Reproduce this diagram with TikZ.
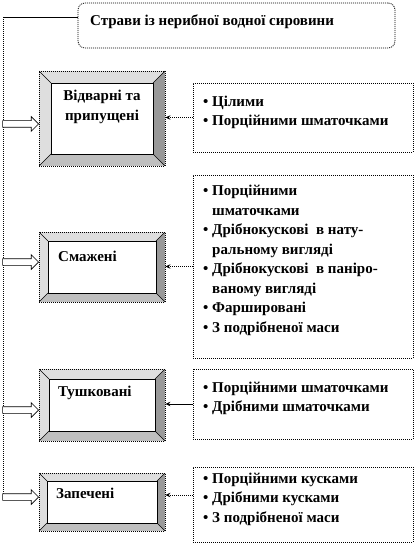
\documentclass[tikz,border=0pt]{standalone}
\usepackage{fontspec}
\setmainfont{Liberation Serif}
\usetikzlibrary{arrows.meta, shapes.arrows, calc}
\definecolor{bevlight}{gray}{0.87}
\definecolor{bevmid}{gray}{0.75}
\definecolor{bevdark}{gray}{0.6}
\newcommand\bul{\textbullet\ }
\newcommand\bulpad{\hphantom{\textbullet\ }}
\tikzset{
  dotline/.style  = {line width=0.8pt, dash pattern=on 1pt off 1pt},
  titlebox/.style = {dotline, draw, rounded corners=7pt, minimum width=317pt,
                     minimum height=45pt, inner sep=0pt},
  listbox/.style  = {dotline, draw, minimum width=220pt, inner sep=0pt},
  listtxt/.style  = {anchor=north west, align=left, inner sep=0pt},
  grptxt/.style   = {anchor=west, inner sep=0pt},
  bevelbox/.style = {dotline, draw, minimum width=126pt, inner sep=0pt,
    path picture={
      \coordinate (p1) at (path picture bounding box.north west);
      \coordinate (p2) at (path picture bounding box.north east);
      \coordinate (p3) at (path picture bounding box.south east);
      \coordinate (p4) at (path picture bounding box.south west);
      \coordinate (q1) at ([shift={(#1,-#1)}]p1);
      \coordinate (q2) at ([shift={(-#1,-#1)}]p2);
      \coordinate (q3) at ([shift={(-#1,#1)}]p3);
      \coordinate (q4) at ([shift={(#1,#1)}]p4);
      \fill[bevlight] (p1) -- (p2) -- (q2) -- (q1) -- cycle;
      \fill[bevlight] (p1) -- (q1) -- (q4) -- (p4) -- cycle;
      \fill[bevdark] (p2) -- (p3) -- (q3) -- (q2) -- cycle;
      \fill[bevmid] (p4) -- (q4) -- (q3) -- (p3) -- cycle;
      \draw[solid, line width=0.8pt, fill=white] (q1) rectangle (q3);
      \draw[solid, line width=0.6pt] (p1) -- (q1) (p2) -- (q2) (p3) -- (q3) (p4) -- (q4);
    }},
  blockarr/.style = {single arrow, draw, line width=0.6pt, fill=white,
                     inner xsep=0pt, inner ysep=3pt, minimum height=36pt,
                     single arrow head extend=4pt, single arrow head indent=0pt},
  conn/.style     = {-{Stealth[length=5pt, width=4.5pt]}, line width=0.8pt},
}
\begin{document}
\begin{tikzpicture}[x=1pt, y=-1pt,
    every node/.style={font=\bfseries\fontsize{15}{19.5}\selectfont}]
  \useasboundingbox (0,0) rectangle (417,545);

  % heading
  \node[titlebox] (title) at (236.5,25.5) {};
  \node[grptxt] (titletxt) at (90,22) {Страви із нерибної водної сировини};

  % groups
  \node[bevelbox=12pt, minimum height=95pt] (boiled) at (102,118.5) {};
  \node[align=center, inner sep=0pt] (boiledtxt) at (102,107) {Відварні та\\припущені};
  \node[bevelbox=9pt, minimum height=70pt] (fried) at (102,267) {};
  \node[grptxt] (friedtxt) at (58,256) {Смажені};
  \node[bevelbox=10pt, minimum height=72pt] (stewed) at (102,405) {};
  \node[grptxt] (stewedtxt) at (58,393) {Тушковані};
  \node[bevelbox=8pt, minimum height=58pt] (baked) at (102,502) {};
  \node[grptxt] (bakedtxt) at (56,493) {Запечені};

  % lists
  \node[listbox, minimum height=69pt] (rA) at (303,117.5) {};
  \node[listtxt] (rAtxt) at (203,95.5) {\bul Цілими\\\bul Порційними шматочками};
  \node[listbox, minimum height=183pt] (rB) at (303,266.5) {};
  \node[listtxt] (rBtxt) at (203,185) {\bul Порційними\\\bulpad шматочками\\
    \bul Дрібнокускові\ \ в нату-\\\bulpad ральному вигляді\\
    \bul Дрібнокускові\ \ в паніро-\\\bulpad ваному вигляді\\
    \bul Фаршировані\\\bul З подрібненої маси};
  \node[listbox, minimum height=70pt] (rC) at (303,404) {};
  \node[listtxt] (rCtxt) at (203,381.5) {\bul Порційними шматочками\\\bul Дрібними шматочками};
  \node[listbox, minimum height=75pt] (rD) at (303,504.5) {};
  \node[listtxt] (rDtxt) at (203,472.5) {\bul Порційними кусками\\\bul Дрібними кусками\\\bul З подрібненої маси};

  % spine on the left
  \coordinate (spinetop) at (3,17);
  \coordinate (spinebot) at (3,497);
  \draw[line width=0.8pt] (spinetop) -- (spinetop -| title.west);
  \draw[dotline] (spinetop) -- (spinebot);
  \node[blockarr, anchor=tip] (arrboiled) at (39,124) {};
  \node[blockarr, anchor=tip] (arrfried) at (39,262) {};
  \node[blockarr, anchor=tip] (arrstewed) at (39,410) {};
  \node[blockarr, anchor=tip] (arrbaked) at (39,497) {};

  % connectors from lists
  \draw[conn, dotline] (rA.west) -- (rA.west -| boiled.east);
  \draw[conn, dotline] (rB.west) -- (rB.west -| fried.east);
  \draw[conn] (rC.west) -- (rC.west -| stewed.east);
  \draw[conn, dotline] ([yshift=9.5pt]rD.west) -- ([yshift=7pt]baked.east);
\end{tikzpicture}
\end{document}
